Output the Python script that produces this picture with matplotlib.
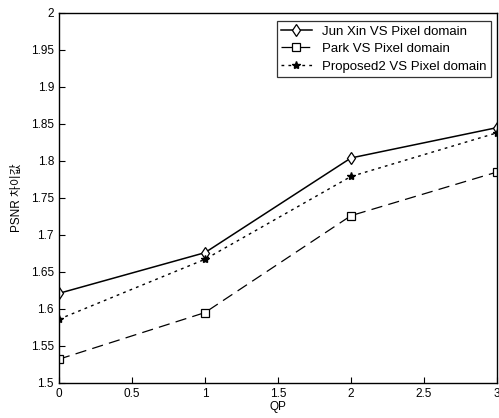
import matplotlib
matplotlib.use("Agg")
import matplotlib.pyplot as plt

plt.rcParams['font.family'] = ['Liberation Sans', 'Noto Sans CJK KR', 'DejaVu Sans']

qp = [0, 1, 2, 3]
junxin = [1.621, 1.676, 1.804, 1.845]
park = [1.532, 1.595, 1.726, 1.785]
proposed2 = [1.586, 1.667, 1.779, 1.838]
labels = ["Jun Xin VS Pixel domain", "Park VS Pixel domain", "Proposed2 VS Pixel domain"]
xticks = [0, 0.5, 1, 1.5, 2, 2.5, 3]
yticks = [1.5, 1.55, 1.6, 1.65, 1.7, 1.75, 1.8, 1.85, 1.9, 1.95, 2]

fig = plt.figure(figsize=(4.99, 4.18), dpi=100)
ax = fig.add_axes([0.118, 0.084, 0.878, 0.885])

ax.plot(qp, junxin, '-', color='black', lw=1.1, marker='d', ms=6, mfc='white', mec='black', mew=0.9, label=labels[0])
ax.plot(qp, park, color='black', lw=0.9, linestyle=(0, (9, 5)), marker='s', ms=5.5, mfc='white', mec='black', mew=0.9, label=labels[1])
ax.plot(qp, proposed2, color='black', lw=1.0, linestyle=(0, (2, 3)), marker='*', ms=6, mfc='black', mec='black', label=labels[2])

ax.set_xlim(0, 3)
ax.set_ylim(1.5, 2)
ax.set_xticks(xticks)
ax.set_xticklabels([f"{t:g}" for t in xticks])
ax.set_yticks(yticks)
ax.set_yticklabels([f"{t:g}" for t in yticks])
ax.tick_params(direction='in', length=4, labelsize=8.5, width=0.8, top=False, right=False)
for s in ax.spines.values():
    s.set_linewidth(1.0)
    s.set_color('black')

ax.set_xlabel("QP", fontsize=8.5, labelpad=1)
ax.set_ylabel("PSNR 차이값", fontsize=8.5, labelpad=6)

leg = ax.legend(loc='upper right', fontsize=9.5, frameon=True, fancybox=False, edgecolor='black',
                handlelength=2.3, borderaxespad=0.0, labelspacing=0.4, borderpad=0.35, handletextpad=0.8,
                bbox_to_anchor=(0.987, 0.979))
leg.get_frame().set_linewidth(0.9)

fig.savefig("out.png", dpi=100, facecolor='white')
